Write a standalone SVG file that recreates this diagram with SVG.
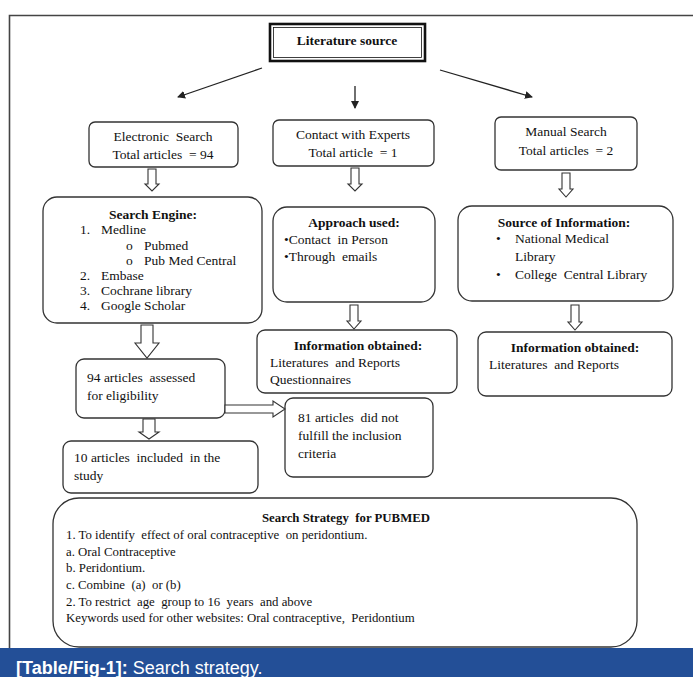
<svg xmlns="http://www.w3.org/2000/svg" width="693" height="677" viewBox="0 0 693 677">
<defs>
<style>
.bx{fill:#fff;stroke:#333;stroke-width:1.3}
.t{font-family:"Liberation Serif","Times New Roman",serif;font-size:13.5px;fill:#111;white-space:pre}
.s{font-family:"Liberation Serif","Times New Roman",serif;font-size:12.8px;fill:#111;white-space:pre}
.b{font-weight:bold}
.m{text-anchor:middle}
.ln{stroke:#222;stroke-width:1.3;fill:none}
.ba{fill:#fff;stroke:#333;stroke-width:1.1}
</style>
<marker id="ah" markerWidth="8" markerHeight="8" refX="7" refY="4" orient="auto" markerUnits="userSpaceOnUse">
<path d="M0,0 L8,4 L0,8 Z" fill="#222"/>
</marker>
</defs>
<rect width="693" height="677" fill="#fff"/>
<path d="M9.5,648 V15.5 H693" fill="none" stroke="#444" stroke-width="1.6"/>

<g id="literature-source">
<rect x="270" y="24" width="155" height="37" fill="#fff" stroke="#111" stroke-width="2.6"/>
<rect x="273.5" y="27.5" width="148" height="30" fill="none" stroke="#111" stroke-width="0.8"/>
<text class="t b m" x="347" y="45">Literature source</text>
</g>

<g id="electronic-search">
<rect class="bx" x="89" y="122" width="149" height="45" rx="6"/>
<text class="t m" x="163" y="141">Electronic  Search</text>
<text class="t m" x="163" y="159">Total articles  = 94</text>
</g>

<g id="contact-experts">
<rect class="bx" x="273" y="120" width="161" height="46" rx="6"/>
<text class="t m" x="353" y="139">Contact with Experts</text>
<text class="t m" x="353" y="157">Total article  = 1</text>
</g>

<g id="manual-search">
<rect class="bx" x="495" y="117" width="142" height="53" rx="6"/>
<text class="t m" x="566" y="136">Manual Search</text>
<text class="t m" x="566" y="155">Total articles  = 2</text>
</g>

<g id="search-engine">
<rect class="bx" x="43" y="197" width="219" height="126" rx="14"/>
<text class="t b m" x="153" y="219">Search Engine:</text>
<text class="t" x="80" y="234">1.</text><text class="t" x="101" y="234">Medline</text>
<text class="t" x="126" y="250">o</text><text class="t" x="144" y="250">Pubmed</text>
<text class="t" x="126" y="265">o</text><text class="t" x="144" y="265">Pub Med Central</text>
<text class="t" x="80" y="280">2.</text><text class="t" x="101" y="280">Embase</text>
<text class="t" x="80" y="295">3.</text><text class="t" x="101" y="295">Cochrane library</text>
<text class="t" x="80" y="310">4.</text><text class="t" x="101" y="310">Google Scholar</text>
</g>

<g id="approach-used">
<rect class="bx" x="273" y="207" width="162" height="95" rx="14"/>
<text class="t b m" x="354" y="227">Approach used:</text>
<text class="t" x="284" y="244">•Contact  in Person</text>
<text class="t" x="284" y="261">•Through  emails</text>
</g>

<g id="source-information">
<rect class="bx" x="458" y="206" width="215" height="95" rx="14"/>
<text class="t b m" x="564" y="227">Source of Information:</text>
<text class="t" x="496" y="243">•</text><text class="t" x="515" y="243">National Medical</text>
<text class="t" x="515" y="261">Library</text>
<text class="t" x="496" y="279">•</text><text class="t" x="515" y="279">College  Central Library</text>
</g>

<g id="info-obtained-experts">
<rect class="bx" x="257" y="330" width="200" height="63" rx="8"/>
<text class="t b m" x="358" y="350">Information obtained:</text>
<text class="t" x="270" y="367">Literatures  and Reports</text>
<text class="t" x="270" y="384">Questionnaires</text>
</g>

<g id="info-obtained-manual">
<rect class="bx" x="478" y="332" width="194" height="64" rx="8"/>
<text class="t b m" x="575" y="352">Information obtained:</text>
<text class="t" x="489" y="369">Literatures  and Reports</text>
</g>

<g id="assessed">
<rect class="bx" x="76" y="359" width="149" height="59" rx="8"/>
<text class="t" x="87" y="382">94 articles  assessed</text>
<text class="t" x="87" y="400">for eligibility</text>
</g>

<g id="excluded">
<rect class="bx" x="285" y="398" width="148" height="79" rx="8"/>
<text class="t" x="298" y="422">81 articles  did not</text>
<text class="t" x="298" y="440">fulfill the inclusion</text>
<text class="t" x="298" y="458">criteria</text>
</g>

<g id="included">
<rect class="bx" x="63" y="441" width="195" height="52" rx="8"/>
<text class="t" x="74" y="462">10 articles  included  in the</text>
<text class="t" x="74" y="480">study</text>
</g>

<g id="search-strategy">
<rect class="bx" x="53" y="498" width="584" height="149" rx="26"/>
<text class="s b m" x="346" y="522">Search Strategy  for PUBMED</text>
<text class="s" x="66" y="539">1. To identify  effect of oral contraceptive  on peridontium.</text>
<text class="s" x="66" y="556">a. Oral Contraceptive</text>
<text class="s" x="66" y="572">b. Peridontium.</text>
<text class="s" x="66" y="589">c. Combine  (a)  or (b)</text>
<text class="s" x="66" y="606">2. To restrict  age  group to 16  years  and above</text>
<text class="s" x="66" y="622">Keywords used for other websites: Oral contraceptive,  Peridontium</text>
</g>

<g id="connectors">
<line class="ln" x1="262" y1="68" x2="178" y2="97" marker-end="url(#ah)"/>
<line class="ln" x1="355" y1="86" x2="355" y2="108" marker-end="url(#ah)"/>
<line class="ln" x1="440" y1="70" x2="532" y2="97" marker-end="url(#ah)"/>
<path class="ba" d="M148,169 H156 V184 H159 L152,191 L145,184 H148 Z"/>
<path class="ba" d="M351,168 H359 V184 H362 L355,191 L348,184 H351 Z"/>
<path class="ba" d="M562,173 H570 V189 H573 L566,197 L559,189 H562 Z"/>
<path class="ba" d="M350,305 H358 V321 H361 L354,329 L347,321 H350 Z"/>
<path class="ba" d="M571,305 H579 V322 H582 L575,330 L568,322 H571 Z"/>
<path class="ba" d="M141,325 H153 V343 H159 L147,358 L135,343 H141 Z"/>
<path class="ba" d="M143,419 H155 V432 H159 L149,439 L139,432 H143 Z"/>
<path class="ba" d="M225,405 H273 V401 L285,409 L273,417 V413 H225 Z"/>
</g>

<g id="caption">
<rect x="0" y="648" width="693" height="29" fill="#234f97"/>
<text x="16" y="674" font-family="'Liberation Sans',Arial,sans-serif" font-size="18" fill="#fff"><tspan font-weight="bold">[Table/Fig-1]:</tspan> Search strategy.</text>
</g>
</svg>
